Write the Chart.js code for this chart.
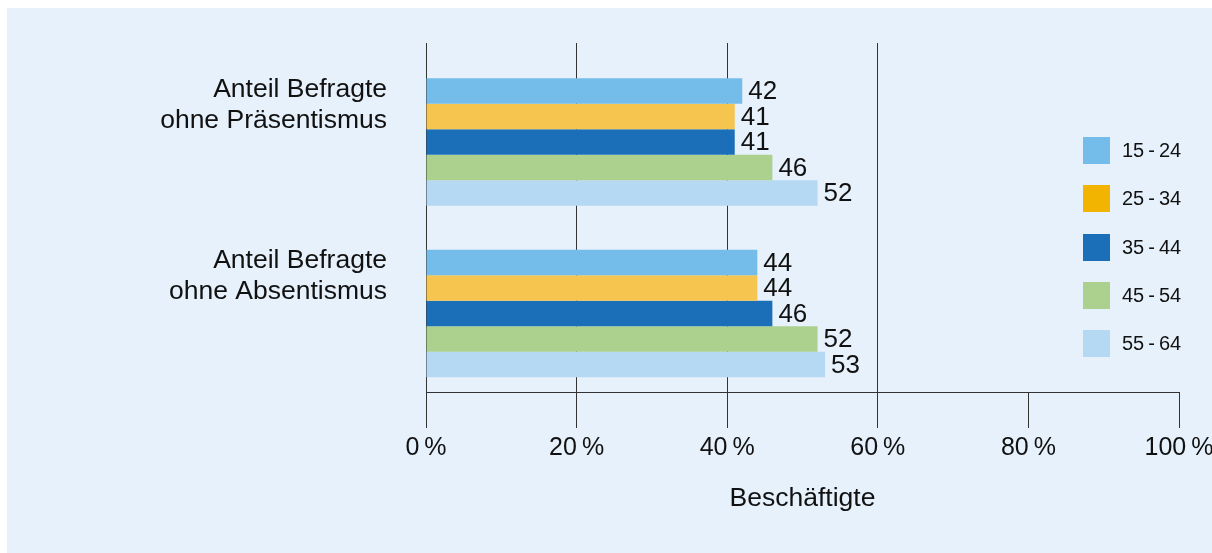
<!DOCTYPE html>
<html lang="de">
<head>
<meta charset="utf-8">
<title>Präsentismus und Absentismus nach Altersgruppen</title>
<script src="https://cdn.jsdelivr.net/npm/chart.js@4.4.1/dist/chart.umd.min.js"></script>
<style>
  html, body { margin: 0; width: 1212px; height: 553px; overflow: hidden; background: #fff; }
  body { position: relative; font-family: "Liberation Sans", Arial, sans-serif; }
  #panel { position: absolute; left: 7px; top: 8px; right: 0; bottom: 0; background: #e7f1fb; }
  #chart { position: absolute; left: 0; top: 0; }
  #legend { position: absolute; left: 1083px; top: 137px; margin: 0; padding: 0; list-style: none; }
  #legend li { display: flex; align-items: center; height: 27px; margin-bottom: 21.3px; font-size: 20px; color: #111; }
  #legend .swatch { width: 27px; height: 27px; margin-right: 12px; }
</style>
</head>
<body>
<div id="panel"></div>
<canvas id="chart" width="1212" height="553"></canvas>
<ul id="legend"></ul>
<script>
const categories = [
  ["Anteil Befragte", "ohne Präsentismus"],
  ["Anteil Befragte", "ohne Absentismus"],
];
const ageGroups = ["15\u2009-\u200924", "25\u2009-\u200934", "35\u2009-\u200944", "45\u2009-\u200954", "55\u2009-\u200964"];
const values15to24 = [42, 44];
const values25to34 = [41, 44];
const values35to44 = [41, 46];
const values45to54 = [46, 52];
const values55to64 = [52, 53];
const xTicks = [0, 20, 40, 60, 80, 100];

const barColors = ["#74bdea", "#f5c54f", "#1b6fb8", "#acd18e", "#b5d8f3"];
const swatchColors = ["#74bdea", "#f2b400", "#1b6fb8", "#acd18e", "#b5d8f3"];

const FONT = "'Liberation Sans', Arial, sans-serif";
const TEXT = "#111";
const LINE = "#333";

Chart.defaults.font.family = FONT;
Chart.defaults.color = TEXT;

const seriesValues = [values15to24, values25to34, values35to44, values45to54, values55to64];
const datasets = ageGroups.map((label, i) => ({
  label: label,
  data: seriesValues[i],
  backgroundColor: barColors[i],
  borderWidth: 0,
  categoryPercentage: 0.744,
  barPercentage: 1,
}));

// numbers at the end of each bar
const valueLabels = {
  id: "valueLabels",
  afterDatasetsDraw(chart) {
    const ctx = chart.ctx;
    ctx.save();
    ctx.font = "26px " + FONT;
    ctx.fillStyle = TEXT;
    ctx.textAlign = "left";
    ctx.textBaseline = "middle";
    chart.data.datasets.forEach((ds, i) => {
      chart.getDatasetMeta(i).data.forEach((bar, j) => {
        ctx.fillText(String(ds.data[j]), bar.x + 6, bar.y + 1);
      });
    });
    ctx.restore();
  },
};

const chart = new Chart(document.getElementById("chart"), {
  type: "bar",
  data: { labels: categories, datasets: datasets },
  plugins: [valueLabels],
  options: {
    indexAxis: "y",
    responsive: false,
    animation: false,
    devicePixelRatio: 1,
    layout: { padding: { top: 43, right: 33, bottom: 0, left: 0 } },
    plugins: {
      legend: { display: false },
      tooltip: { enabled: false },
    },
    scales: {
      x: {
        min: 0,
        max: 100,
        afterBuildTicks: (scale) => {
          scale.ticks = xTicks.map((v) => ({ value: v }));
        },
        afterFit: (scale) => {
          scale.height = 161;
          scale.paddingLeft = 0;
          scale.paddingRight = 0;
        },
        ticks: {
          padding: 5,
          font: { size: 25 },
          color: TEXT,
          maxRotation: 0,
          callback: (v) => v + "\u2009%",
        },
        grid: {
          color: (ctx) => (ctx.tick && ctx.tick.value > 60 ? "transparent" : LINE),
          tickColor: LINE,
          tickLength: 36,
          lineWidth: 1,
        },
        border: { display: true, color: LINE, width: 1 },
        title: {
          display: true,
          text: "Beschäftigte",
          font: { size: 26.5 },
          color: TEXT,
          padding: { top: 0, bottom: 38 },
        },
      },
      y: {
        type: "category",
        offset: true,
        // put the two bar groups a bit lower than the evenly spaced slots
        afterBuildTicks: (scale) => {
          scale._startValue = -0.577;
          scale._valueRange = 2.035;
        },
        afterFit: (scale) => {
          scale.width = 426;
          scale.paddingTop = 0;
          scale.paddingBottom = 0;
        },
        grid: { display: false },
        border: { display: false },
        ticks: {
          padding: 31,
          labelOffset: -37,
          font: { size: 26.5, lineHeight: 1.17 },
          color: TEXT,
        },
      },
    },
  },
});

// legend list on the right
const legend = document.getElementById("legend");
chart.data.datasets.forEach((ds, i) => {
  const item = document.createElement("li");
  const swatch = document.createElement("span");
  swatch.className = "swatch";
  swatch.style.background = swatchColors[i];
  item.appendChild(swatch);
  item.appendChild(document.createTextNode(ds.label));
  legend.appendChild(item);
});
</script>
</body>
</html>
